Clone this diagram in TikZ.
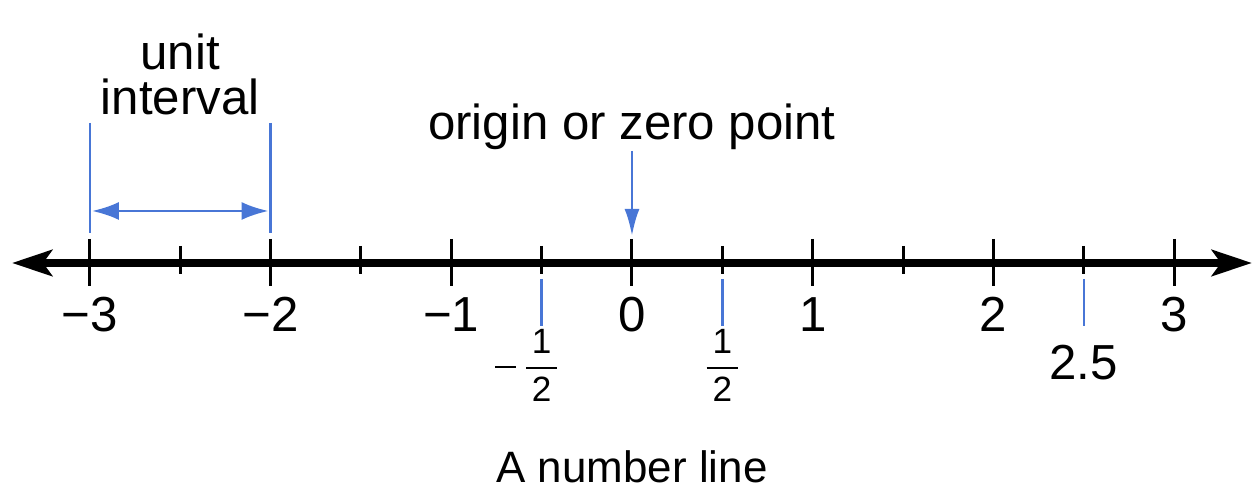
\documentclass[tikz,border=0pt]{standalone}
\usepackage{amsmath}
\usepackage{fontspec}
\setmainfont{Liberation Sans}
\usepackage{xcolor}
\usepackage{tikz}
\usetikzlibrary{arrows.meta}
\definecolor{guideblue}{RGB}{72,118,214}

\begin{document}
\begin{tikzpicture}[x=1.807cm,y=1cm,
  axis/.style={line width=2.3pt,{Stealth[length=4mm,width=2.6mm,inset=0.9mm]}-{Stealth[length=4mm,width=2.6mm,inset=0.9mm]}},
  tick/.style={line width=0.85pt},
  guide/.style={guideblue,line width=0.7pt},
  numlab/.style={font=\fontsize{14pt}{16pt}\selectfont,anchor=base,inner sep=0pt},
  fraclab/.style={font=\fontsize{10pt}{12pt}\selectfont,inner sep=0pt}]
\useasboundingbox (-6.32cm,-2.26) rectangle (6.25cm,2.63);
% the line
\coordinate (tail) at (-6.2cm,0);
\coordinate (head) at (6.2cm,0);
\draw[axis](tail)--(head);
\draw[tick](-3,0.24)--(-3,-0.23) (-2,0.24)--(-2,-0.23) (-1,0.24)--(-1,-0.23)
(0,0.24)--(0,-0.23) (1,0.24)--(1,-0.23) (2,0.24)--(2,-0.23) (3,0.24)--(3,-0.23);
\draw[tick](-2.5,0.17)--(-2.5,-0.11) (-1.5,0.17)--(-1.5,-0.11) (-0.5,0.17)--(-0.5,-0.11)
(0.5,0.17)--(0.5,-0.11) (1.5,0.17)--(1.5,-0.11) (2.5,0.17)--(2.5,-0.11);
% numbers
\node[numlab] (nm3) at (-3,-0.69) {−3};
\node[numlab] (nm2) at (-2,-0.69) {−2};
\node[numlab] (nm1) at (-1,-0.69) {−1};
\node[numlab] (n0) at (0,-0.69) {0};
\node[numlab] (n1) at (1,-0.69) {1};
\node[numlab] (n2) at (2,-0.69) {2};
\node[numlab] (n3) at (3,-0.69) {3};
% marked points below the line
\coordinate (mhalf) at (-0.5,-0.16);
\coordinate (phalf) at (0.5,-0.16);
\coordinate (twohalf) at (2.5,-0.16);
\node[fraclab] (mhalflab) at (-0.5,-1.02) {\llap{\rule[2.4pt]{6pt}{0.6pt}\kern1.6pt}$\genfrac{}{}{0.5pt}{0}{\,\text{1}\,}{\,\text{2}\,}$};
\node[fraclab] (phalflab) at (0.5,-1.02) {$\genfrac{}{}{0.5pt}{0}{\,\text{1}\,}{\,\text{2}\,}$};
\node[numlab] (twohalflab) at (2.5,-1.17) {2.5};
\draw[guide](mhalf)--(-0.5,-0.63) (phalf)--(0.5,-0.63) (twohalf)--(2.5,-0.63);
% unit interval
\coordinate (ua) at (-3,1.40);
\coordinate (ub) at (-2,1.40);
\draw[guide](ua)--(-3,0.30) (ub)--(-2,0.30);
\draw[guide,line width=0.8pt,{Latex[length=2.7mm,width=1.8mm]}-{Latex[length=2.7mm,width=1.8mm]}]
([xshift=0.02cm]-3,0.52)--([xshift=-0.02cm]-2,0.52);
\node[numlab,align=center,font=\fontsize{14pt}{12.8pt}\selectfont] (unit) at (-2.5,1.48) {unit\\interval};
% origin
\node[numlab] (origin) at (0,1.23) {origin or zero point};
\draw[guide,line width=0.8pt,-{Latex[length=2.7mm,width=1.5mm]}](0,1.12)--(0,0.27);
\node[numlab,font=\fontsize{12.5pt}{14pt}\selectfont] (caption) at (0,-2.20) {A number line};
\end{tikzpicture}
\end{document}
